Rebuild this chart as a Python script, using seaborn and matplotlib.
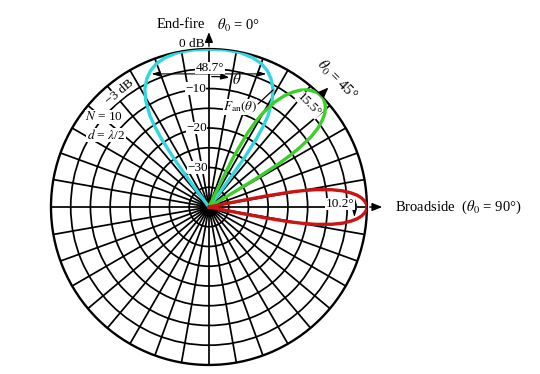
import numpy as np
import pandas as pd
import seaborn as sns
import matplotlib.pyplot as plt

# main lobes of the array factor, angle from end-fire (deg) and level (dB)
endfire_deg = [-36.9, -36.4, -35.9, -34.9, -33.9, -32.9, -30.7, -28.4, -25.8, -23.1,
               -20.0, -16.3, -11.5, -6.0, 0.0, 6.0, 11.5, 16.3, 20.0, 23.1, 25.8,
               28.4, 30.7, 32.9, 33.9, 34.9, 35.9, 36.4, 36.9]
endfire_db = [-40, -31.7, -25.5, -19.1, -15.3, -12.5, -8.6, -5.9, -3.9, -2.4,
              -1.3, -0.6, -0.1, 0.0, 0.0, 0.0, -0.1, -0.6, -1.3, -2.4, -3.9,
              -5.9, -8.6, -12.5, -15.3, -19.1, -25.5, -31.7, -40]

scan45_deg = [24.9, 25.6, 26.2, 27.5, 28.7, 29.9, 32.1, 34.2, 36.2, 38.1, 39.9, 41.7,
              43.4, 45.0, 46.6, 48.2, 49.7, 51.2, 52.6, 54.1, 55.5, 56.8, 57.5, 58.2,
              58.9, 59.2, 59.5]
scan45_db = [-40, -31.7, -25.5, -19.1, -15.3, -12.5, -8.6, -5.9, -3.9, -2.4, -1.3, -0.6,
             -0.1, 0.0, -0.1, -0.6, -1.3, -2.4, -3.9, -5.9, -8.6, -12.5, -15.3, -19.1,
             -25.5, -31.7, -40]

broad_deg = [78.5, 78.8, 79.1, 79.6, 80.2, 80.8, 82.0, 83.1, 84.3, 85.4, 86.6, 87.7,
             88.9, 90.0, 91.1, 92.3, 93.4, 94.6, 95.7, 96.9, 98.0, 99.2, 99.8, 100.4,
             100.9, 101.2, 101.5]
broad_db = [-40, -31.7, -25.5, -19.1, -15.3, -12.5, -8.6, -5.9, -3.9, -2.4, -1.3, -0.6,
            -0.1, 0.0, -0.1, -0.6, -1.3, -2.4, -3.9, -5.9, -8.6, -12.5, -15.3, -19.1,
            -25.5, -31.7, -40]

lobe_colors = {'endfire': '#33d6e0', 'scan45': '#3ccf28', 'broad': '#cc1414'}

# half-power widths marked on the chart
hpbw = {'endfire': (-24.35, 24.35, '48.7°'), 'scan45': (37.3, 51.8, '15.5°'),
        'broad': (84.9, 95.1, '10.2°')}

dB_floor = -40

frames = []
for name, deg, db in [('endfire', endfire_deg, endfire_db),
                      ('scan45', scan45_deg, scan45_db),
                      ('broad', broad_deg, broad_db)]:
    frames.append(pd.DataFrame({'lobe': name, 'theta': np.deg2rad(deg),
                                'r': np.array(db) - dB_floor}))
df = pd.concat(frames, ignore_index=True)

sns.set_theme(style='white')
plt.rcParams['font.family'] = ['Liberation Serif', 'DejaVu Serif']
plt.rcParams['mathtext.fontset'] = 'stix'
plt.rcParams['text.color'] = 'black'

fig = plt.figure(figsize=(5.4, 3.74), dpi=100)
ax = fig.add_axes([0.0944, 0.024, 0.585, 0.845], projection='polar')
ax.set_theta_zero_location('N')
ax.set_theta_direction(-1)

for name in ['endfire', 'scan45', 'broad']:
    sub = df[df['lobe'] == name]
    sns.lineplot(data=sub, x='theta', y='r', ax=ax, color=lobe_colors[name],
                 lw=2.4, sort=False, estimator=None, zorder=4)

ax.set_rlim(0, 40)
ax.set_rgrids([5, 10, 15, 20, 25, 30, 35], labels=[''] * 7)
ax.set_thetagrids(np.arange(0, 360, 10), labels=[''] * 36)
ax.grid(True, color='black', lw=1.25)
ax.spines['polar'].set_linewidth(1.7)
ax.spines['polar'].set_color('black')
ax.set_xlabel('')
ax.set_ylabel('')
# solid hub where the spokes meet
ax.fill_between(np.linspace(0, 2 * np.pi, 60), 0, 2.2, color='black', zorder=3)

white = dict(facecolor='white', edgecolor='none', pad=0.3)
fs = 9.5

# axis arrows
arrow_kw = dict(arrowstyle='-|>,head_length=0.5,head_width=0.2', color='black', lw=1.0)
for ang, rr in [(0, 45.0), (45, 43.5), (90, 44.6)]:
    ax.annotate('', xy=(np.deg2rad(ang), rr), xytext=(np.deg2rad(ang), 40),
                arrowprops=arrow_kw, annotation_clip=False)

# half-power width markers
for name, (a0, a1, lab) in hpbw.items():
    ax.annotate('', xy=(np.deg2rad(a0), 37), xytext=(np.deg2rad(a1), 37),
                arrowprops=dict(arrowstyle='<|-|>,head_length=0.4,head_width=0.12',
                                color='black', lw=0.8), zorder=5)

# dB ring labels
for lvl, rr in [('0 dB', 41.2), ('−10', 30), ('−20', 20), ('−30', 10)]:
    t = ax.text(np.deg2rad(-1.5), rr, lvl, ha='right', va='center', fontsize=fs, zorder=6)
    if lvl != '0 dB':
        t.set_bbox(white)

def px(x, y):
    return x / 540, 1 - y / 374

fig.text(*px(205, 25), 'End-fire', ha='right', va='center', fontsize=10.5)
fig.text(*px(217, 25), r'$\theta_0$ = 0°', ha='left', va='center', fontsize=10.5)
fig.text(*px(395, 207), r'Broadside  ($\theta_0$ = 90°)', ha='left', va='center', fontsize=10.5)
fig.text(*px(337, 80), r'$\theta_0$ = 45°', ha='center', va='center', fontsize=10.5, rotation=-45)

fig.text(*px(210, 68), '48.7°', ha='center', va='center', fontsize=fs, bbox=white, zorder=6)
fig.text(*px(309, 105), '15.5°', ha='center', va='center', fontsize=fs, rotation=-45,
         bbox=white, zorder=6)
fig.text(*px(340, 204), '10.2°', ha='center', va='center', fontsize=fs, bbox=white, zorder=6)

# theta direction arrow and the pattern label
ax.annotate('', xy=(np.deg2rad(10.1), 33.2), xytext=(0, 33),
            arrowprops=dict(arrowstyle='-|>,head_length=0.4,head_width=0.15',
                            color='black', lw=0.9, connectionstyle='arc3,rad=-0.05'))
fig.text(*px(237, 80), r'$\theta$', ha='center', va='center', fontsize=11)
fig.text(*px(240, 107), r'$F_{\mathrm{an}}(\theta)$', ha='center', va='center',
         fontsize=fs, bbox=white, zorder=6)
fig.add_artist(plt.Line2D([258 / 540, 273 / 540], [1 - 104 / 374, 1 - 90 / 374],
                          color='black', lw=0.9))

fig.text(*px(120, 92), '−3 dB', ha='center', va='center', fontsize=fs, rotation=40,
         bbox=white, zorder=6)
fig.text(*px(104, 117), r'$N$ = 10', ha='center', va='center', fontsize=fs,
         bbox=white, zorder=6)
fig.text(*px(106, 135), r'$d$ = $\lambda$/2', ha='center', va='center', fontsize=fs,
         bbox=white, zorder=6)

fig.savefig('out.png', dpi=100)
